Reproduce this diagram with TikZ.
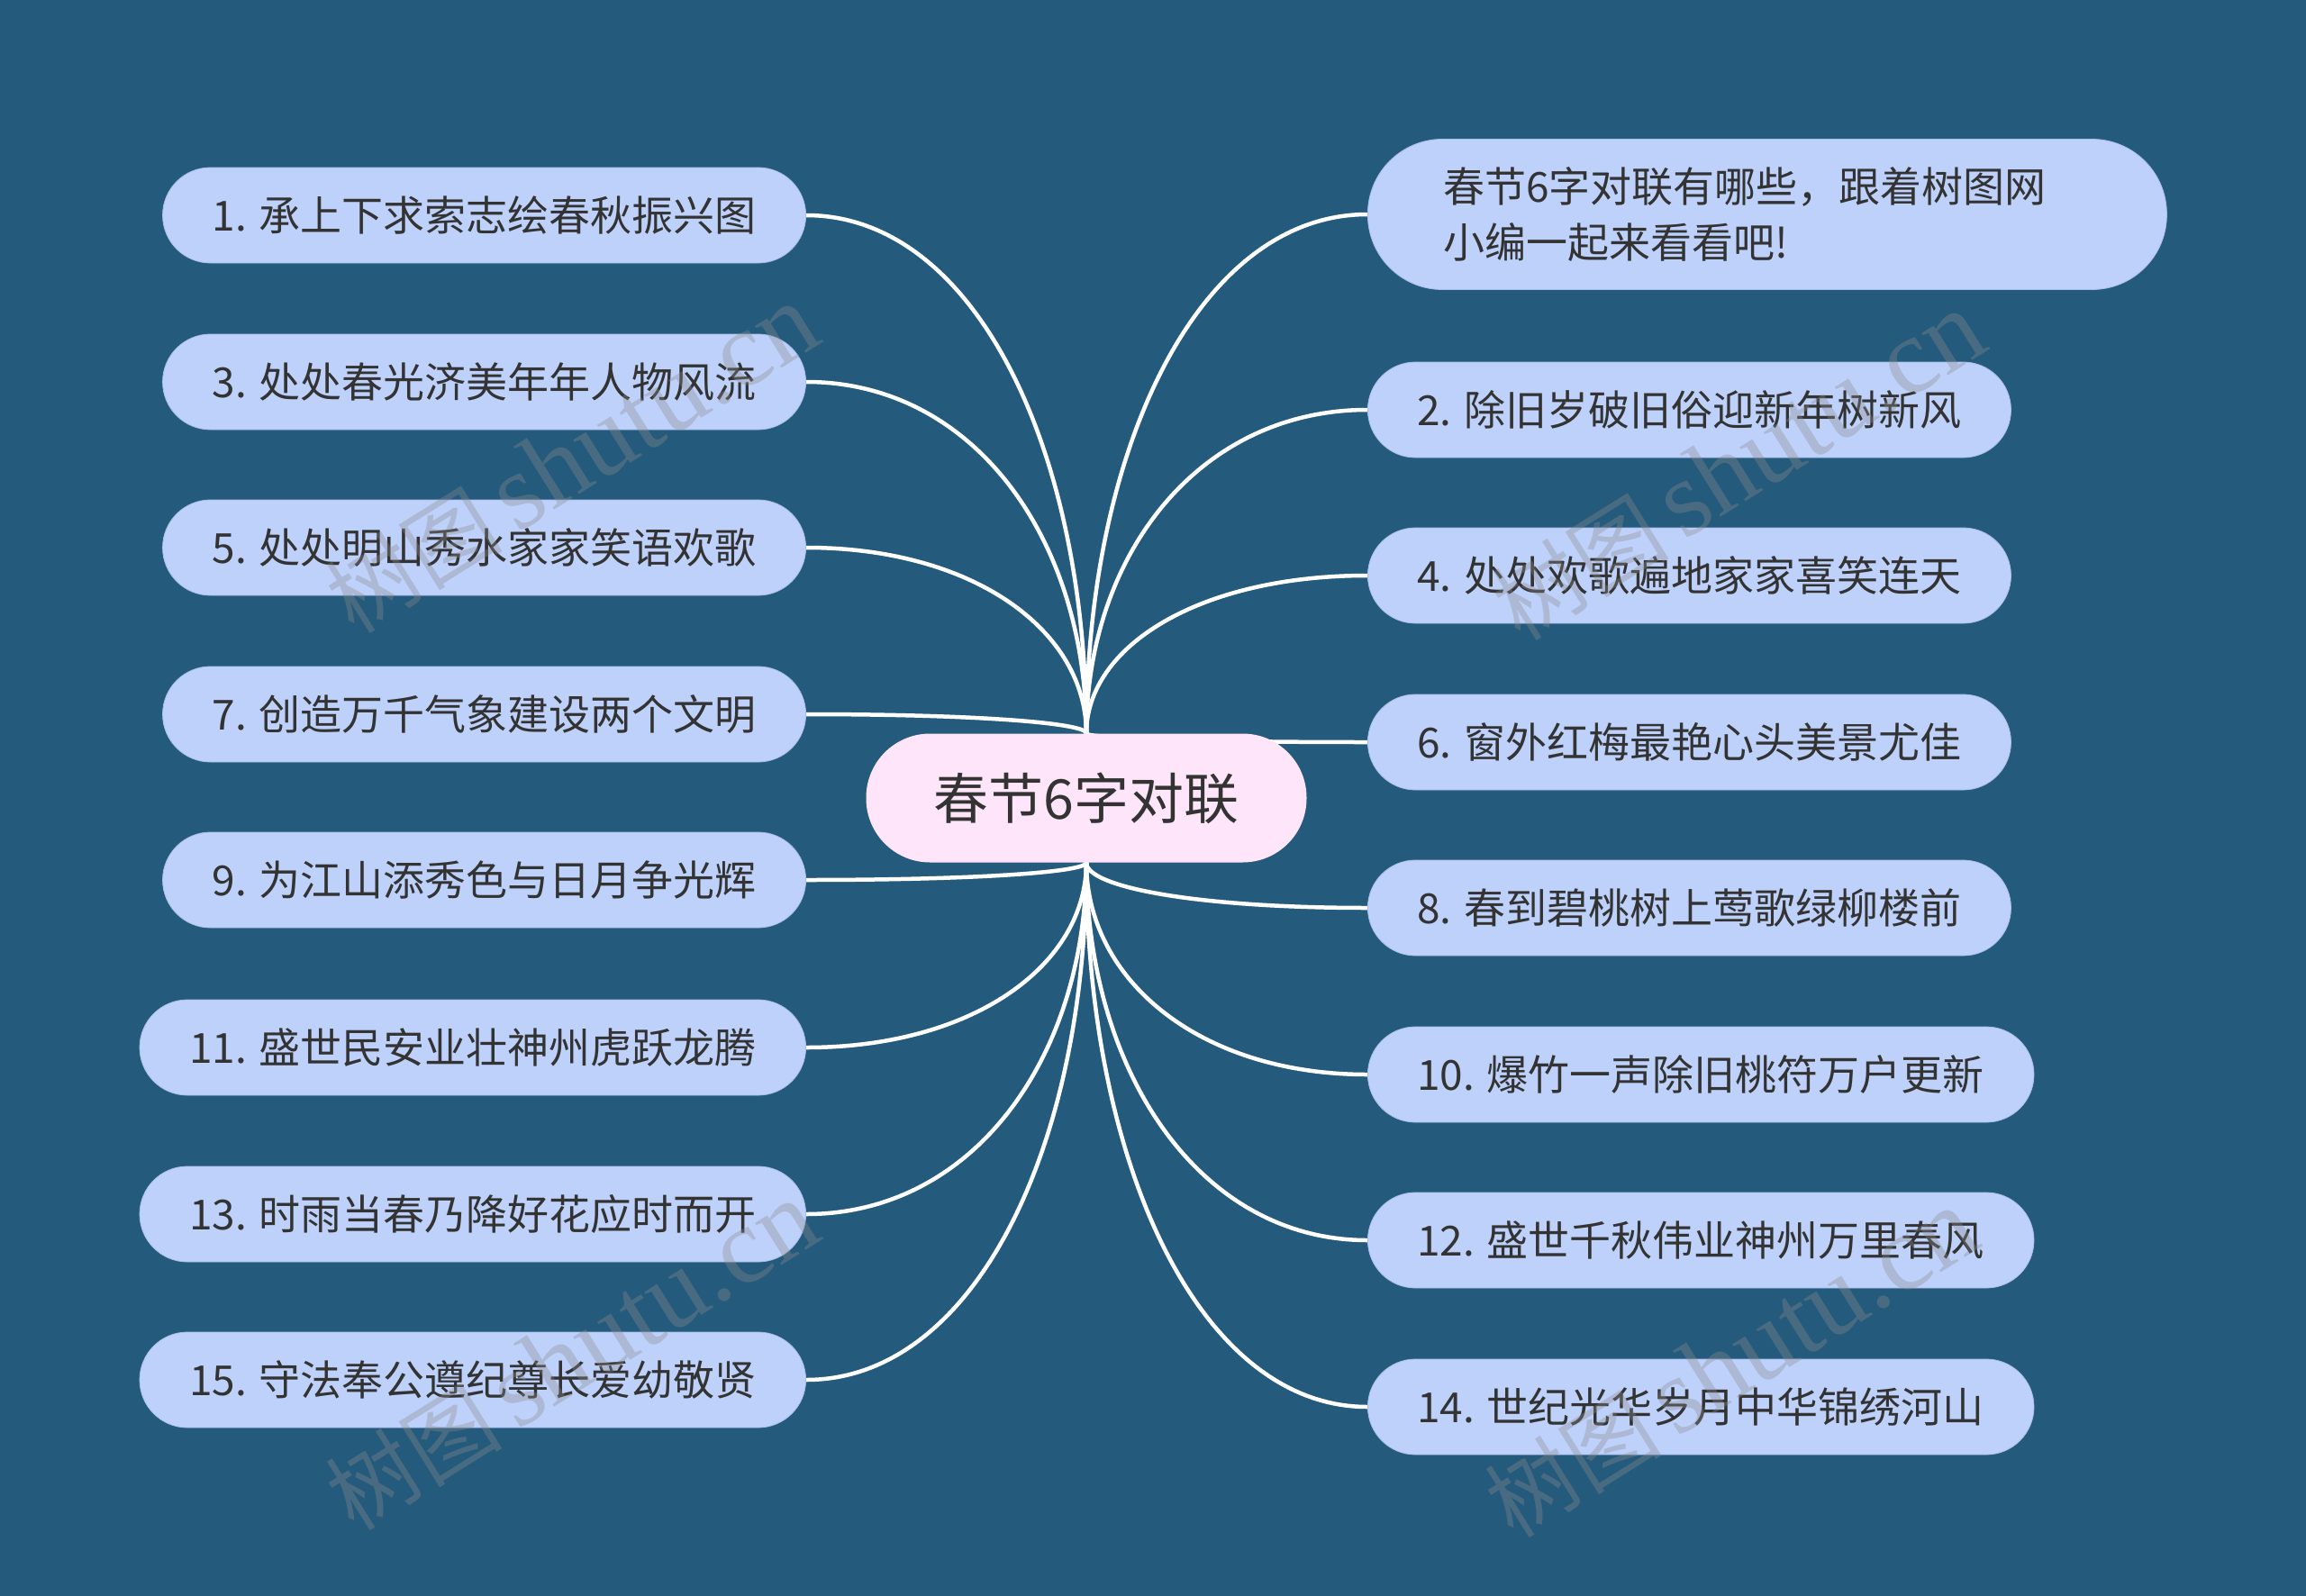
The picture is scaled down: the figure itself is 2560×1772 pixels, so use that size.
\documentclass[tikz,border=0pt]{standalone}
\usepackage{fontspec}
\setmainfont{Noto Sans CJK SC}
\newfontfamily\wmlatin{Liberation Serif}
\usetikzlibrary{calc}
\definecolor{bgcol}{HTML}{245A7C}
\definecolor{leaffill}{HTML}{BED1FB}
\definecolor{leafedge}{HTML}{A9BDE8}
\definecolor{rootfill}{HTML}{FFE5FA}
\definecolor{txtcol}{HTML}{333333}
\definecolor{wmcol}{HTML}{8C8C8C}
\pgfdeclarelayer{bgfill}
\pgfdeclarelayer{links}
\pgfsetlayers{bgfill,links,main}
\tikzset{
  leaf/.style={fill=leaffill, draw=leafedge, line width=0.8pt, rounded corners=53pt,
    minimum height=106pt, inner xsep=55pt, inner ysep=0pt, text=txtcol,
    font=\fontsize{46}{62}\selectfont},
  leafL/.style={leaf, anchor=east},
  leafR/.style={leaf, anchor=west},
  rootbox/.style={fill=rootfill, rounded corners=71pt, minimum height=143pt,
    minimum width=489pt, inner sep=0pt, text=txtcol, font=\fontsize{61}{70}\selectfont},
  conn/.style={draw=white, line width=4.5pt},
  wmark/.style={text=wmcol, text opacity=0.35, rotate=32, inner sep=0pt},
}
\newcommand\mmlink[2]{\draw[conn] (#1) .. controls ($(#1)!0.55!(#1|-#2)$) and ($(#2)!0.6!(#2-|#1)$) .. (#2);}
\newcommand\wmtext{\fontsize{98}{98}\selectfont 树图\,\wmlatin\fontsize{120}{120}\selectfont shutu.cn}
\begin{document}
\begin{tikzpicture}[x=1pt,y=-1pt]
\begin{pgfonlayer}{bgfill}
  \fill[bgcol] (0,0) rectangle (2560,1772);
\end{pgfonlayer}
\useasboundingbox (0,0) rectangle (2560,1772);

\node[rootbox] (root) at (1206,886) {春节6字对联};

% left side
\node[leafL] (n1)  at (895,239)  {1. 承上下求索志绘春秋振兴图};
\node[leafL] (n3)  at (895,424)  {3. 处处春光济美年年人物风流};
\node[leafL] (n5)  at (895,608)  {5. 处处明山秀水家家笑语欢歌};
\node[leafL] (n7)  at (895,793)  {7. 创造万千气象建设两个文明};
\node[leafL] (n9)  at (895,977)  {9. 为江山添秀色与日月争光辉};
\node[leafL] (n11) at (895,1163) {11. 盛世民安业壮神州虎跃龙腾};
\node[leafL] (n13) at (895,1348) {13. 时雨当春乃降好花应时而开};
\node[leafL] (n15) at (895,1532) {15. 守法奉公遵纪尊长爱幼敬贤};

% right side
\node[leaf, anchor=west, rounded corners=83pt, minimum height=167pt, inner xsep=84pt,
  text width=719pt, align=left] (intro) at (1518,238)
  {春节6字对联有哪些，跟着树图网\\小编一起来看看吧!};
\node[leafR] (n2)  at (1518,455)  {2. 除旧岁破旧俗迎新年树新风};
\node[leafR] (n4)  at (1518,639)  {4. 处处欢歌遍地家家喜笑连天};
\node[leafR] (n6)  at (1518,824)  {6. 窗外红梅最艳心头美景尤佳};
\node[leafR] (n8)  at (1518,1008) {8. 春到碧桃树上莺歌绿柳楼前};
\node[leafR] (n10) at (1518,1193) {10. 爆竹一声除旧桃符万户更新};
\node[leafR] (n12) at (1518,1377) {12. 盛世千秋伟业神州万里春风};
\node[leafR] (n14) at (1518,1562) {14. 世纪光华岁月中华锦绣河山};

\begin{pgfonlayer}{links}
  \mmlink{root.north}{n1.east}
  \mmlink{root.north}{n3.east}
  \mmlink{root.north}{n5.east}
  \mmlink{root.north}{n7.east}
  \mmlink{root.south}{n9.east}
  \mmlink{root.south}{n11.east}
  \mmlink{root.south}{n13.east}
  \mmlink{root.south}{n15.east}
  \mmlink{root.north}{intro.west}
  \mmlink{root.north}{n2.west}
  \mmlink{root.north}{n4.west}
  \mmlink{root.north}{n6.west}
  \mmlink{root.south}{n8.west}
  \mmlink{root.south}{n10.west}
  \mmlink{root.south}{n12.west}
  \mmlink{root.south}{n14.west}
\end{pgfonlayer}

% watermarks
\node[wmark] (wm1) at (635,510)  {\wmtext};
\node[wmark] (wm2) at (1930,518) {\wmtext};
\node[wmark] (wm3) at (635,1506) {\wmtext};
\node[wmark] (wm4) at (1922,1514){\wmtext};
\end{tikzpicture}
\end{document}
